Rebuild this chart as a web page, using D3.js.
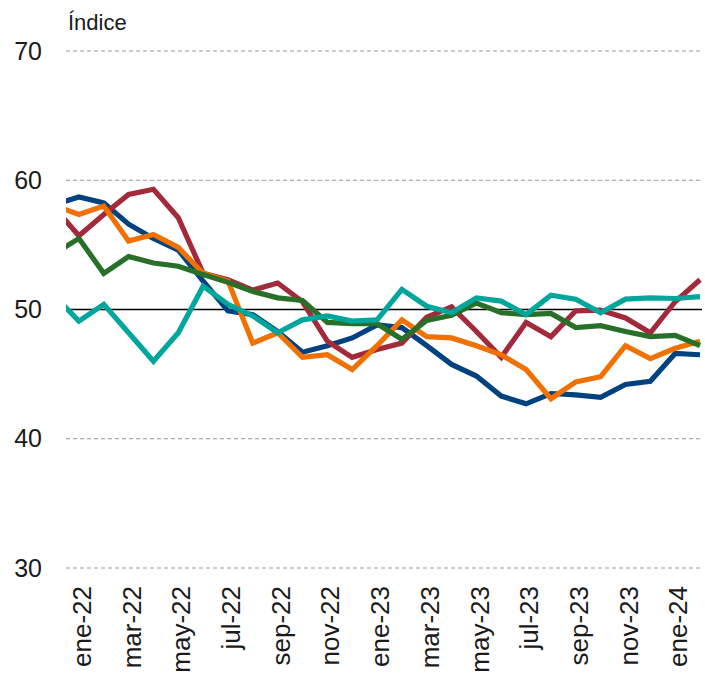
<!DOCTYPE html>
<html>
<head>
<meta charset="utf-8">
<script src="https://cdn.jsdelivr.net/npm/d3@7"></script>
<style>
  body { margin: 0; background: #fff; }
  svg { display: block; font-family: "Liberation Sans", Arial, sans-serif; }
</style>
</head>
<body>
<script>
/* CONSTANTS AND GLOBALS */
const width = 705,
  height = 677,
  margin = { top: 51, right: 3, bottom: 109, left: 66 };

/* DATA (first value = dic-21, only partly visible at the left edge) */
const months = ["dic-21",
  "ene-22", "feb-22", "mar-22", "abr-22", "may-22", "jun-22", "jul-22", "ago-22", "sep-22", "oct-22", "nov-22", "dic-22",
  "ene-23", "feb-23", "mar-23", "abr-23", "may-23", "jun-23", "jul-23", "ago-23", "sep-23", "oct-23", "nov-23", "dic-23",
  "ene-24", "feb-24"];

const serieAzul = [58.1,
  58.7, 58.25, 56.6, 55.5, 54.6, 52.2, 49.9, 49.6, 48.3, 46.7, 47.2, 47.8,
  48.8, 48.6, 47.2, 45.75, 44.85, 43.3, 42.7, 43.5, 43.4, 43.2, 44.2, 44.45,
  46.6, 46.5];

const serieGranate = [57.9,
  55.7, 57.35, 58.9, 59.3, 57.1, 52.8, 52.3, 51.5, 52.05, 50.6, 47.55, 46.3,
  46.9, 47.4, 49.4, 50.2, 48.3, 46.3, 49.0, 47.9, 49.9, 49.95, 49.35, 48.2,
  50.6, 52.3];

const serieNaranja = [58.05,
  57.35, 58.0, 55.3, 55.8, 54.8, 52.8, 52.2, 47.4, 48.2, 46.3, 46.5, 45.35,
  47.2, 49.2, 47.9, 47.8, 47.2, 46.5, 45.35, 43.1, 44.4, 44.8, 47.2, 46.2,
  47.0, 47.55];

const serieVerde = [54.3,
  55.5, 52.8, 54.1, 53.6, 53.35, 52.7, 52.1, 51.4, 50.9, 50.7, 49.0, 48.9,
  48.9, 47.7, 49.15, 49.55, 50.5, 49.75, 49.6, 49.7, 48.6, 48.75, 48.3, 47.9,
  48.0, 47.2];

const serieTurquesa = [51.1,
  49.1, 50.4, 48.2, 46.0, 48.2, 51.8, 50.4, 49.5, 48.2, 49.2, 49.5, 49.1,
  49.2, 51.55, 50.25, 49.75, 50.9, 50.65, 49.6, 51.1, 50.8, 49.75, 50.8, 50.9,
  50.85, 51.0];

const yTicks = [30, 40, 50, 60, 70];
const xLabels = ["ene-22", "mar-22", "may-22", "jul-22", "sep-22", "nov-22",
  "ene-23", "mar-23", "may-23", "jul-23", "sep-23", "nov-23", "ene-24"];

const series = [
  { values: serieAzul, color: "#00427f" },
  { values: serieGranate, color: "#a32a3b" },
  { values: serieNaranja, color: "#f07000" },
  { values: serieVerde, color: "#28702a" },
  { values: serieTurquesa, color: "#00a69c" }
];

const svg = d3.select("body")
  .append("svg")
  .attr("width", width)
  .attr("height", height);

// scales: month index (ene-22 = 0), the axis starts half a month before ene-22
const xScale = d3.scaleLinear()
  .domain([-0.52, 25.08])
  .range([margin.left, width - margin.right]);

const yScale = d3.scaleLinear()
  .domain([30, 70])
  .range([height - margin.bottom, margin.top]);

const idx = m => months.indexOf(m) - 1;

// gridlines
svg.append("g")
  .selectAll("line")
  .data(yTicks.filter(d => d !== 50))
  .enter()
  .append("line")
  .attr("x1", margin.left)
  .attr("x2", width - margin.right)
  .attr("y1", d => yScale(d))
  .attr("y2", d => yScale(d))
  .attr("stroke", "#9a9a9a")
  .attr("stroke-width", 1)
  .attr("stroke-dasharray", "4,3");

// y axis labels
const yAxis = d3.axisLeft(yScale).tickValues(yTicks).tickSize(0).tickPadding(0);
svg.append("g")
  .attr("transform", `translate(42, 0)`)
  .call(yAxis)
  .call(g => g.select(".domain").remove())
  .selectAll("text")
  .attr("font-size", "25px")
  .attr("font-family", "Liberation Sans, Arial, sans-serif")
  .attr("fill", "#1a1a1a");

// line clip
svg.append("clipPath")
  .attr("id", "plot-clip")
  .append("rect")
  .attr("x", margin.left)
  .attr("y", 0)
  .attr("width", width - margin.right - margin.left)
  .attr("height", height);

const line = d3.line()
  .x((d, i) => xScale(i - 1))
  .y(d => yScale(d));

// reference line at 50
svg.append("line")
  .attr("x1", margin.left)
  .attr("x2", width - margin.right)
  .attr("y1", yScale(50))
  .attr("y2", yScale(50))
  .attr("stroke", "#000")
  .attr("stroke-width", 1.5);

// series lines
svg.append("g")
  .attr("clip-path", "url(#plot-clip)")
  .selectAll("path")
  .data(series)
  .enter()
  .append("path")
  .attr("d", d => line(d.values))
  .attr("fill", "none")
  .attr("stroke", d => d.color)
  .attr("stroke-width", 5.2)
  .attr("stroke-linejoin", "miter");

// x axis labels (rotated)
svg.append("g")
  .selectAll("text")
  .data(xLabels)
  .enter()
  .append("text")
  .attr("transform", d => `translate(${xScale(idx(d)) + 3}, ${height - margin.bottom + 18}) rotate(-90)`)
  .attr("dy", "0.35em")
  .attr("text-anchor", "end")
  .attr("font-size", "26px")
  .attr("fill", "#1a1a1a")
  .text(d => d);

// unit label
svg.append("text")
  .attr("x", 68)
  .attr("y", 30)
  .attr("font-size", "22px")
  .attr("fill", "#1a1a1a")
  .text("Índice");
</script>
</body>
</html>
